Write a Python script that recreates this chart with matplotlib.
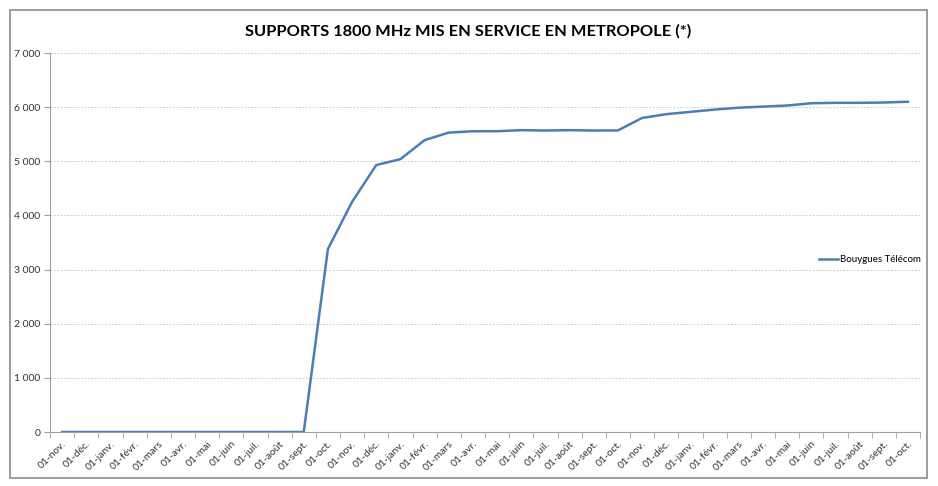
import matplotlib
matplotlib.use("Agg")
import matplotlib.pyplot as plt
from matplotlib.patches import Rectangle
from matplotlib.ticker import FuncFormatter, MultipleLocator

months = ["01-nov.", "01-déc.", "01-janv.", "01-févr.", "01-mars", "01-avr.",
          "01-mai", "01-juin", "01-juil.", "01-août", "01-sept.", "01-oct."]
labels = months * 3
values = [0, 0, 0, 0, 0, 0, 0, 0, 0, 0, 0,
          3380, 4250, 4930, 5040, 5390, 5530, 5555, 5555, 5575, 5568, 5575, 5568, 5570,
          5800, 5870, 5913, 5955, 5990, 6010, 6030, 6072, 6080, 6080, 6085, 6100]
series_name = "Bouygues Télécom"
title = "SUPPORTS 1800 MHz MIS EN SERVICE EN METROPOLE (*)"

W, H = 938, 486
fig = plt.figure(figsize=(W / 100, H / 100), dpi=100)
fig.patch.set_facecolor("white")

# outer frame
fig.add_artist(Rectangle((10 / W, 1 - 478 / H), 917 / W, 468 / H, transform=fig.transFigure,
                         fill=False, edgecolor="#8c8c8c", linewidth=1.2))

ax = fig.add_axes([50 / W, 1 - 432 / H, 870 / W, 379 / H])
x = list(range(len(values)))
ax.plot(x, values, color="#4A7EBB", linewidth=1.8, label=series_name)

ax.set_xlim(-0.5, len(values) - 0.5)
ax.set_ylim(0, 7000)
ax.yaxis.set_major_locator(MultipleLocator(1000))
ax.yaxis.set_major_formatter(FuncFormatter(lambda v, p: f"{int(v):,}".replace(",", " ")))
ax.grid(axis="y", color="#d0d0d0", linestyle=(0, (2, 1.5)), linewidth=0.7)
ax.set_axisbelow(True)

ax.set_xticks(x)
ax.set_xticklabels(labels, rotation=45, ha="right", rotation_mode="anchor",
                   fontsize=7.5, fontfamily="Lato", color="#333333")
ax.set_xticks([i - 0.5 for i in range(len(values) + 1)], minor=True)
ax.tick_params(axis="x", which="major", length=0, pad=5)
ax.tick_params(axis="x", which="minor", length=4, color="#a0a0a0", direction="out")
ax.tick_params(axis="y", length=4, color="#a0a0a0", labelsize=7.5, labelcolor="#333333", pad=3)
for t in ax.get_yticklabels():
    t.set_fontfamily("Lato")

for s in ["top", "right"]:
    ax.spines[s].set_visible(False)
ax.spines["left"].set_color("#a0a0a0")
ax.spines["bottom"].set_color("#a0a0a0")
ax.spines["left"].set_linewidth(0.8)
ax.spines["bottom"].set_linewidth(0.8)

leg = ax.legend(loc="center left", bbox_to_anchor=(814 / W, 1 - 260 / H),
                bbox_transform=fig.transFigure, frameon=False,
                prop={"family": "Lato", "size": 7},
                handlelength=2.0, handletextpad=0.2, borderpad=0)

fig.text(468 / W, 1 - 31 / H, title, ha="center", va="center", fontsize=11.8,
         fontweight="bold", fontfamily="Lato", color="black")

fig.savefig("out.png", dpi=100, facecolor="white")
